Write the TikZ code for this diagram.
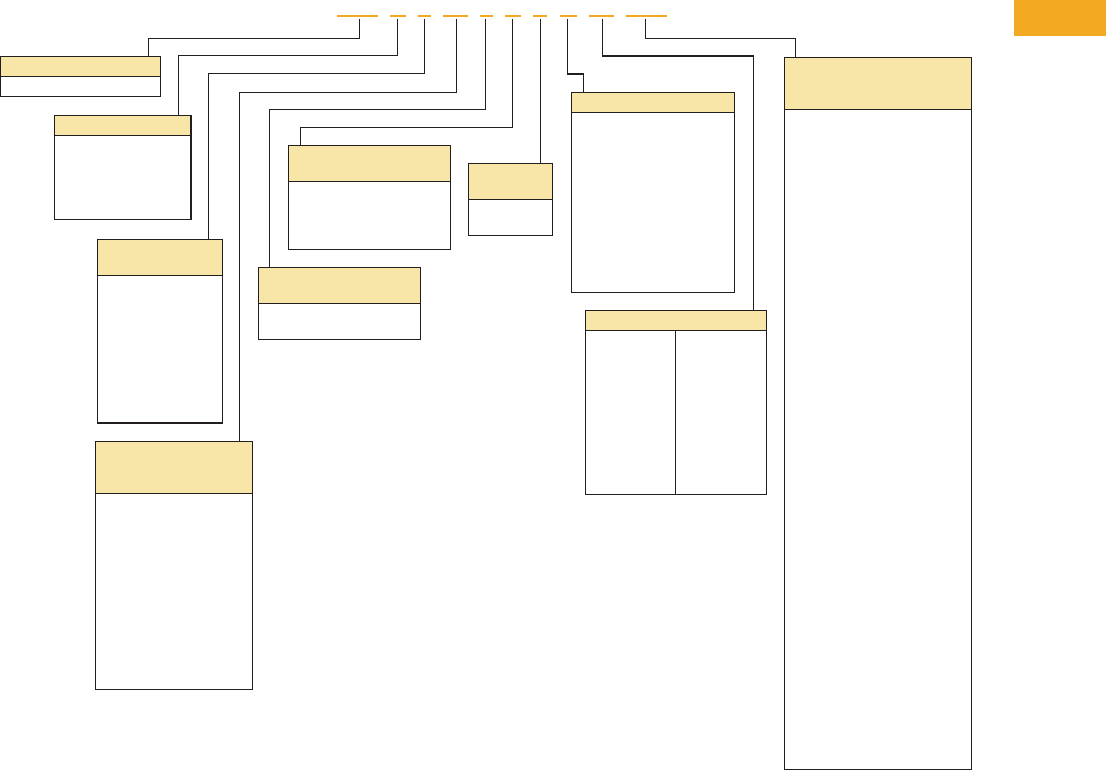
\documentclass[tikz,border=0pt]{standalone}
\usetikzlibrary{calc}
\definecolor{hdrfill}{HTML}{F8E5A8}
\definecolor{barcol}{HTML}{F4A923}
\definecolor{linecol}{HTML}{231F20}
\tikzset{
  boxst/.style={draw=linecol, line width=1.2pt, fill=white, rectangle, inner sep=0pt, outer sep=0pt, anchor=north west},
  hdrst/.style={draw=linecol, line width=1.2pt, fill=hdrfill, rectangle, inner sep=0pt, outer sep=0pt, anchor=north west},
  barst/.style={fill=barcol, rectangle, inner sep=0pt, outer sep=0pt, minimum height=2.2pt},
  conn/.style={draw=linecol, line width=1.1pt},
  tabst/.style={fill=barcol, rectangle, inner sep=0pt, outer sep=0pt, anchor=north west}
}
\begin{document}
\begin{tikzpicture}[x=1pt,y=-1pt]
\useasboundingbox (0,0) rectangle (1106,770);
% top-right tab
\node[tabst, minimum width=92pt, minimum height=36.5pt] (tab) at (1014,0) {};
% bars
\node[barst, minimum width=41pt] (b1) at (357.2,16) {};
\node[barst, minimum width=15.7pt] (b2) at (397.85,16) {};
\node[barst, minimum width=13.3pt] (b3) at (424.35,16) {};
\node[barst, minimum width=24.7pt] (b4) at (455.35,16) {};
\node[barst, minimum width=13pt] (b5) at (486.5,16) {};
\node[barst, minimum width=16pt] (b6) at (513,16) {};
\node[barst, minimum width=14pt] (b7) at (540,16) {};
\node[barst, minimum width=16.7pt] (b8) at (568.35,16) {};
\node[barst, minimum width=24.7pt] (b9) at (601.35,16) {};
\node[barst, minimum width=40.7pt] (b10) at (646.35,16) {};
% boxes
\node[boxst, minimum width=159.7pt, minimum height=40pt] (A) at (0.6,56.3) {};
\node[hdrst, minimum width=159.7pt, minimum height=20pt] (Ah) at (A.north west) {};
\node[boxst, minimum width=136.7pt, minimum height=104pt] (B) at (54.3,115.3) {};
\node[hdrst, minimum width=136.7pt, minimum height=20pt] (Bh) at (B.north west) {};
\node[boxst, minimum width=125.4pt, minimum height=183.7pt] (C) at (97.3,239.3) {};
\node[hdrst, minimum width=125.4pt, minimum height=36pt] (Ch) at (C.north west) {};
\node[boxst, minimum width=157pt, minimum height=248pt] (D) at (95.3,441.3) {};
\node[hdrst, minimum width=157pt, minimum height=52pt] (Dh) at (D.north west) {};
\node[boxst, minimum width=162pt, minimum height=72pt] (E) at (258.3,267.3) {};
\node[hdrst, minimum width=162pt, minimum height=36pt] (Eh) at (E.north west) {};
\node[boxst, minimum width=162pt, minimum height=104pt] (F) at (288.3,145.3) {};
\node[hdrst, minimum width=162pt, minimum height=36pt] (Fh) at (F.north west) {};
\node[boxst, minimum width=84pt, minimum height=72pt] (G) at (468.3,163.3) {};
\node[hdrst, minimum width=84pt, minimum height=36pt] (Gh) at (G.north west) {};
\node[boxst, minimum width=163pt, minimum height=200pt] (H) at (571.3,92.3) {};
\node[hdrst, minimum width=163pt, minimum height=20pt] (Hh) at (H.north west) {};
\node[boxst, minimum width=181pt, minimum height=184pt] (I) at (585.3,310.3) {};
\node[hdrst, minimum width=181pt, minimum height=20pt] (Ih) at (I.north west) {};
\draw[conn, line width=1.2pt] (Ih.south) -- (I.south);
\node[boxst, minimum width=187pt, minimum height=712pt] (J) at (784.3,57.3) {};
\node[hdrst, minimum width=187pt, minimum height=52pt] (Jh) at (J.north west) {};
% elbow coordinates
\coordinate (e1) at (148.3,38.3);
\coordinate (e2) at (178.3,55.3);
\coordinate (e3) at (208.7,73.3);
\coordinate (e4) at (239.3,92.3);
\coordinate (e5) at (269.3,109.3);
\coordinate (e6) at (300.3,127.3);
\coordinate (e8) at (583.3,74);
\coordinate (e9) at (753.3,56);
\coordinate (e10) at (795.3,38.3);
% connectors
\draw[conn] ([shift={(2.5pt,-2pt)}]b1.south) |- (e1) -- (e1 |- A.north);
\draw[conn] ([shift={(-0.5pt,-2pt)}]b2.south) |- (e2) -- (e2 |- B.north);
\draw[conn] ([shift={(0pt,-2pt)}]b3.south) |- (e3) -- (e3 |- C.north);
\draw[conn] ([shift={(1pt,-2pt)}]b4.south) |- (e4) -- (e4 |- D.north);
\draw[conn] ([shift={(-1.2pt,-2pt)}]b5.south) |- (e5) -- (e5 |- E.north);
\draw[conn] ([shift={(-0.7pt,-2pt)}]b6.south) |- (e6) -- (e6 |- F.north);
\draw[conn] ([shift={(0.3pt,-2pt)}]b7.south) coordinate (s7) -- (s7 |- G.north);
\draw[conn] ([shift={(-1pt,-2pt)}]b8.south) |- (e8) -- (e8 |- H.north);
\draw[conn] ([shift={(1pt,-2pt)}]b9.south) |- (e9) -- (e9 |- I.north);
\draw[conn] ([shift={(-1pt,-2pt)}]b10.south) |- (e10) -- (e10 |- J.north);
\end{tikzpicture}
\end{document}
